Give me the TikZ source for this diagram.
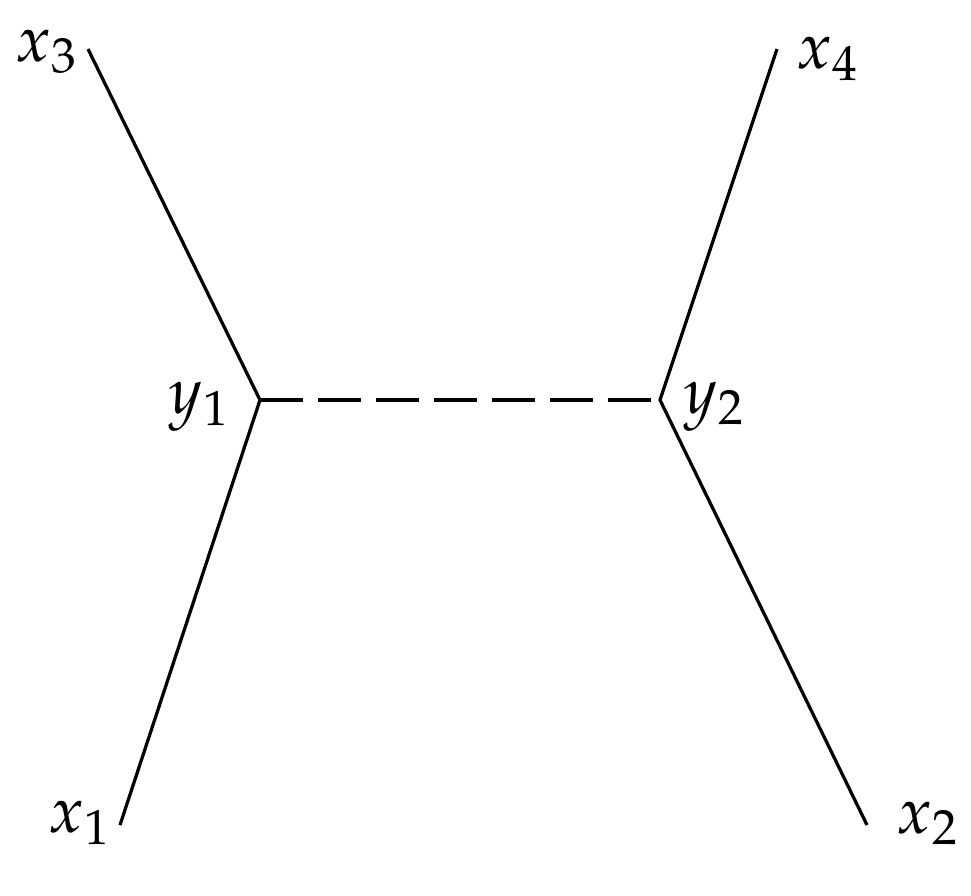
\documentclass[tikz,border=0pt]{standalone}
\usepackage{mathpazo}
\begin{document}
\begin{tikzpicture}[x=0.2pt,y=-0.2pt,
  leg/.style={line width=0.65pt},
  prop/.style={line width=0.7pt,dash pattern=on 8.6pt off 3pt},
  lab/.style={anchor=base west,inner sep=0pt,font=\fontsize{13}{15}\selectfont}]
\useasboundingbox (0,0) rectangle (971,895);
\coordinate (y1) at (260,400);
\coordinate (y2) at (660,400);
\coordinate (e3) at (88,49);
\coordinate (e4) at (777,49);
\coordinate (e1) at (120,825);
\coordinate (e2) at (867,825);
\draw[leg] (e3) -- (y1) -- (e1);
\draw[leg] (e4) -- (y2) -- (e2);
\draw[prop] (y1) -- (y2);
\node[lab] (l3) at (15,61) {$x_3$};
\node[lab] (l4) at (796,68) {$x_4$};
\node[lab] (l1) at (48,832) {$x_1$};
\node[lab] (l2) at (896,833) {$x_2$};
\node[lab] (ly1) at (168,413) {$y_1$};
\node[lab] (ly2) at (683,413) {$y_2$};
\end{tikzpicture}
\end{document}
